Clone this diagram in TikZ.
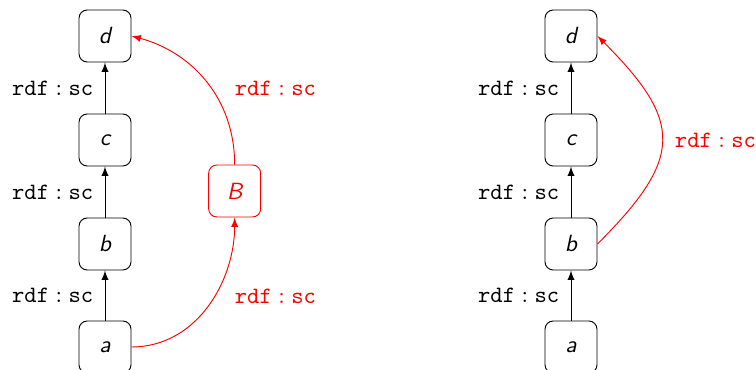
\documentclass[tikz,border=0pt]{standalone}
\tikzset{
  cls/.style={draw, rounded corners=3.5pt, minimum size=0.78cm, inner sep=0pt, font=\sffamily\itshape},
}
\newcommand{\rdfsc}{$\mathtt{rdf}:\mathtt{sc}$}
\begin{document}
\begin{tikzpicture}
      \useasboundingbox (0,0) rectangle (11.34,5.55);
      \draw
        (1.575,0.345) node[cls] (a1){a}
        (1.575,1.89) node[cls] (b1){b}
        (1.575,3.45) node[cls] (c1){c}
        (1.575,5.01) node[cls] (d1){d}
        (3.52,2.685) node[cls,red] (B1){B};
      \draw
        (8.565,0.345) node[cls] (a2){a}
        (8.565,1.89) node[cls] (b2){b}
        (8.565,3.45) node[cls] (c2){c}
        (8.565,5.01) node[cls] (d2){d};
      \begin{scope}[-latex]
        \draw (a1) to node[left=1.5pt] {\rdfsc} (b1);
        \draw (b1) to node[left=1.5pt] {\rdfsc} (c1);
        \draw (c1) to node[left=1.5pt] {\rdfsc} (d1);
        \draw (a2) to node[left=1.5pt] {\rdfsc} (b2);
        \draw (b2) to node[left=1.5pt] {\rdfsc} (c2);
        \draw (c2) to node[left=1.5pt] {\rdfsc} (d2);
      \end{scope}
      \begin{scope}[-latex,red]
        \draw (a1.east) to[out=0,in=-90] (B1.south);
        \draw (B1.north) to[out=90,in=-15] (d1.east);
        \draw (b2.east) to[out=45,in=-45,looseness=1.5] (d2.east);
      \end{scope}
      \node[red,anchor=west] (l1) at (3.40,4.23) {\rdfsc};
      \node[red,anchor=west] (l2) at (3.40,1.11) {\rdfsc};
      \node[red,anchor=west] (l3) at (10.0,3.45) {\rdfsc};
    \end{tikzpicture}
\end{document}
